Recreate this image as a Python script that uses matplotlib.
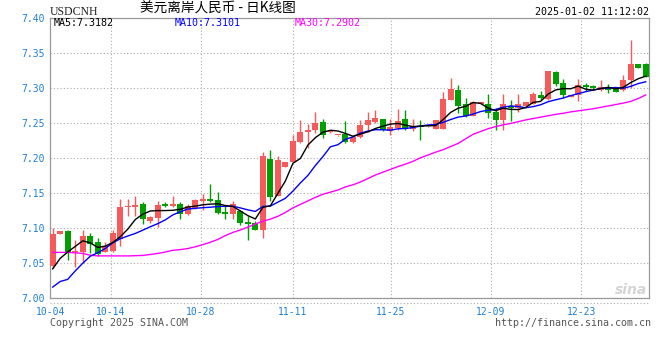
import numpy as np
import pandas as pd
import matplotlib
matplotlib.use("Agg")
import matplotlib.pyplot as plt
from matplotlib.lines import Line2D

# daily candles, 10-04 ... 01-02
opens = [7.046, 7.092, 7.096, 7.066, 7.066, 7.089, 7.080, 7.066, 7.068, 7.085,
         7.130, 7.131, 7.134, 7.110, 7.115, 7.135, 7.132, 7.135, 7.120, 7.129,
         7.139, 7.1415, 7.140, 7.123, 7.120, 7.124, 7.1087, 7.108, 7.098, 7.1995,
         7.146, 7.1875, 7.195, 7.223, 7.238, 7.240, 7.251, 7.237, 7.2324, 7.234,
         7.223, 7.230, 7.247, 7.251, 7.2554, 7.2387, 7.2425, 7.2554, 7.242, 7.2455,
         7.2452, 7.2416, 7.2416, 7.2826, 7.2967, 7.2768, 7.2607, 7.2778, 7.2768, 7.2658,
         7.255, 7.275, 7.272, 7.275, 7.2778, 7.2896, 7.284, 7.3228, 7.307, 7.2868,
         7.2896, 7.305, 7.3024, 7.2967, 7.3014, 7.299, 7.2967, 7.312, 7.3337, 7.3337]
highs = [7.101, 7.096, 7.098, 7.083, 7.097, 7.093, 7.086, 7.080, 7.098, 7.141,
         7.142, 7.146, 7.137, 7.117, 7.139, 7.137, 7.146, 7.137, 7.134, 7.141,
         7.149, 7.163, 7.1515, 7.132, 7.1386, 7.126, 7.118, 7.111, 7.209, 7.211,
         7.203, 7.194, 7.233, 7.254, 7.249, 7.266, 7.256, 7.239, 7.2335, 7.2526,
         7.231, 7.254, 7.266, 7.2686, 7.2554, 7.2564, 7.2707, 7.268, 7.256, 7.254,
         7.2458, 7.2545, 7.295, 7.314, 7.305, 7.2858, 7.2815, 7.279, 7.292, 7.272,
         7.291, 7.2825, 7.291, 7.280, 7.294, 7.2957, 7.325, 7.325, 7.3124, 7.290,
         7.3124, 7.307, 7.305, 7.311, 7.306, 7.299, 7.318, 7.369, 7.3337, 7.336]
lows = [7.043, 7.092, 7.055, 7.044, 7.051, 7.065, 7.061, 7.066, 7.066, 7.075,
        7.118, 7.118, 7.106, 7.108, 7.102, 7.130, 7.130, 7.113, 7.119, 7.127,
        7.126, 7.1376, 7.120, 7.113, 7.1125, 7.105, 7.083, 7.098, 7.086, 7.1386,
        7.146, 7.1875, 7.195, 7.221, 7.215, 7.236, 7.2288, 7.236, 7.232, 7.222,
        7.2215, 7.2293, 7.237, 7.2497, 7.239, 7.2326, 7.2397, 7.2407, 7.2387, 7.2265,
        7.2450, 7.2416, 7.2416, 7.2826, 7.265, 7.2593, 7.2598, 7.2775, 7.258, 7.2397,
        7.2397, 7.253, 7.266, 7.2745, 7.277, 7.2825, 7.2825, 7.303, 7.2863, 7.2866,
        7.281, 7.2957, 7.2975, 7.2953, 7.293, 7.2943, 7.2953, 7.300, 7.329, 7.3157]
closes = [7.092, 7.096, 7.066, 7.067, 7.089, 7.078, 7.063, 7.075, 7.093, 7.130,
          7.132, 7.132, 7.113, 7.116, 7.133, 7.132, 7.134, 7.120, 7.132, 7.140,
          7.141, 7.139, 7.122, 7.120, 7.134, 7.108, 7.106, 7.098, 7.203, 7.145,
          7.197, 7.194, 7.224, 7.238, 7.2405, 7.250, 7.2326, 7.238, 7.2328, 7.223,
          7.230, 7.248, 7.254, 7.2568, 7.2397, 7.2444, 7.2525, 7.2422, 7.246, 7.2445,
          7.2455, 7.254, 7.284, 7.298, 7.2744, 7.260, 7.280, 7.2785, 7.265, 7.255,
          7.2778, 7.272, 7.2768, 7.2797, 7.291, 7.2857, 7.3238, 7.3063, 7.2896, 7.2896,
          7.305, 7.3014, 7.2996, 7.3014, 7.2977, 7.2943, 7.312, 7.3337, 7.329, 7.3157]

# moving averages: the first points need closes from before the window,
# so those are read off the picture; MA30 is read off entirely
ma5_head = [7.042, 7.057, 7.066, 7.074]
ma10_head = [7.016, 7.024, 7.027, 7.039, 7.050, 7.060, 7.065, 7.071, 7.079]
ma30 = [7.0655, 7.0655, 7.0655, 7.0650, 7.0640, 7.0615, 7.0605, 7.0605, 7.0605, 7.0605,
        7.0605, 7.0608, 7.0612, 7.0625, 7.0640, 7.0660, 7.0685, 7.0695, 7.0710, 7.0735,
        7.0765, 7.0800, 7.0840, 7.0895, 7.0940, 7.0975, 7.1015, 7.1060, 7.1100, 7.1130,
        7.1170, 7.1225, 7.1290, 7.1340, 7.1390, 7.1440, 7.1485, 7.1515, 7.1545, 7.1590,
        7.1620, 7.1660, 7.1710, 7.1760, 7.1800, 7.1840, 7.1880, 7.1915, 7.1955, 7.2005,
        7.2045, 7.2085, 7.2120, 7.2165, 7.2210, 7.2275, 7.2340, 7.2380, 7.2420, 7.2450,
        7.2475, 7.2495, 7.2520, 7.2545, 7.2565, 7.2585, 7.2605, 7.2625, 7.2640, 7.2660,
        7.2675, 7.2690, 7.2705, 7.2725, 7.2745, 7.2765, 7.2785, 7.2810, 7.2850, 7.2902]

# last values as printed in the chart header
ma_labels = ["MA5:7.3182", "MA10:7.3101", "MA30:7.2902"]

date_labels = ["10-04", "10-14", "10-28", "11-11", "11-25", "12-09", "12-23"]
date_pos = [-0.29, 7.73, 19.76, 32.01, 45.07, 58.35, 70.42]

W, H = 660, 360
RED = "#f75a5a"
GREEN = "#009e00"
BLUE_TXT = "#1f7fd4"
MONO = "DejaVu Sans Mono"

c = pd.Series(closes)
ma5 = c.rolling(5).mean().to_numpy()
ma5[:4] = ma5_head
ma10 = c.rolling(10).mean().to_numpy()
ma10[:9] = ma10_head

o = np.array(opens)
cl = np.array(closes)
x = np.arange(len(closes))
up = cl >= o
colors = np.where(up, RED, GREEN)


def fx(px):
    return px / W


def fy(py):
    return 1 - py / H


fig = plt.figure(figsize=(W / 100, H / 100), dpi=100)
ax = fig.add_axes([fx(50.5), fy(298.3), (649.3 - 50.5) / W, (298.3 - 18) / H])

# candles
ax.vlines(x, lows, highs, colors=colors, lw=1.0, zorder=2)
body_lo = np.minimum(o, cl)
body_h = np.maximum(np.abs(cl - o), 0.0018)
ax.bar(x, body_h, bottom=body_lo, width=0.8, color=colors, lw=0, zorder=3)

# moving averages
ax.plot(x, ma30, color="#ff00ff", lw=1.0, zorder=4)
ax.plot(x, ma10, color="#0000ff", lw=1.0, zorder=5)
ax.plot(x, ma5, color="black", lw=1.0, zorder=6)

ax.set_xlim(-0.29, 79.48)
ax.set_ylim(7.0, 7.40)
yt = np.arange(7.0, 7.401, 0.05)
ax.set_yticks(yt)
ax.set_yticklabels([f"{v:.2f}" for v in yt])
ax.set_xticks(date_pos)
ax.set_xticklabels(date_labels)
ax.tick_params(length=0, labelsize=7, labelcolor=BLUE_TXT)
ax.tick_params(axis="y", pad=4)
ax.tick_params(axis="x", pad=6)
for lab in ax.get_xticklabels() + ax.get_yticklabels():
    lab.set_family(MONO)
ax.grid(True, ls=(0, (1, 2)), color="#aaaaaa", lw=0.8)
ax.set_axisbelow(True)
for sp in ax.spines.values():
    sp.set_color("#999999")
    sp.set_linewidth(0.9)

fig.add_artist(Line2D([fx(50.5), fx(649.3)], [fy(302.5)] * 2, transform=fig.transFigure,
                      ls=(0, (1, 2)), color="#aaaaaa", lw=0.8))

# header
fig.text(fx(50), fy(12), "USDCNH", family="Liberation Serif", size=8.5,
         color="#222222", ha="left", va="center")
fig.text(fx(140), fy(9), "美元离岸人民币 - 日K线图", family=["Noto Sans CJK SC", "DejaVu Sans"],
         size=9.8, color="black", ha="left", va="center")
fig.text(fx(649), fy(12), "2025-01-02 11:12:02", family=MONO, size=7.2,
         color="black", ha="right", va="center")
for lab, xp, col in zip(ma_labels, [54, 175, 295], ["black", "#0000ff", "#ff00ff"]):
    fig.text(fx(xp), fy(23.5), lab, family=MONO, size=7.2, color=col,
             ha="left", va="center")

# footer
fig.text(fx(50), fy(323), "Copyright 2025 SINA.COM", family=MONO, size=7.2,
         color="#555555", ha="left", va="center")
fig.text(fx(651), fy(323), "http://finance.sina.com.cn", family=MONO, size=7.2,
         color="#555555", ha="right", va="center")
fig.text(fx(647), fy(290), "sina", family="DejaVu Sans", size=10, style="italic",
         weight="bold", color="#d4d4d4", ha="right", va="center")

fig.savefig("out.png", dpi=100)
